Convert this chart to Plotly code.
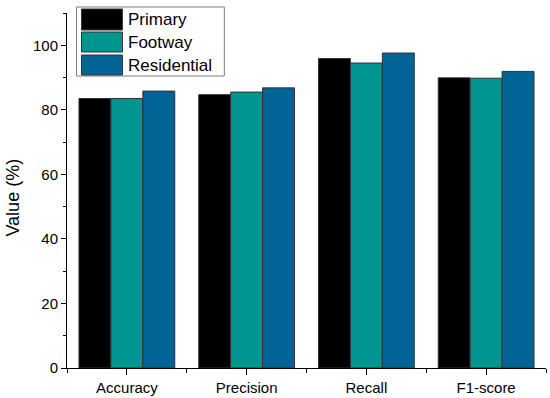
import plotly.graph_objects as go

categories = ["Accuracy", "Precision", "Recall", "F1-score"]
primary = [83.5, 84.7, 95.9, 89.9]
footway = [83.5, 85.5, 94.5, 89.8]
residential = [85.8, 86.8, 97.6, 91.9]
series_names = ["Primary", "Footway", "Residential"]
colors = ["#000000", "#00968F", "#006496"]
y_ticks = [0, 20, 40, 60, 80, 100]

W, H = 550, 398
L, R, T, B = 66.5, 4, 13, 30
pw, ph = W - L - R, H - T - B


def px(x):
    return (x - L) / pw


def py(y):
    return (H - B - y) / ph


xpos = list(range(len(categories)))
fig = go.Figure()
for name, vals, col in zip(series_names, [primary, footway, residential], colors):
    fig.add_trace(go.Bar(
        x=xpos, y=vals, name=name, marker=dict(color=col, line=dict(color="#333333", width=1)),
        showlegend=False, hoverinfo="skip",
    ))

font_family = "Liberation Sans, Arial, sans-serif"
fig.update_layout(
    width=W, height=H,
    margin=dict(l=L, r=R, t=T, b=B, autoexpand=False),
    paper_bgcolor="white", plot_bgcolor="white",
    barmode="group", bargap=0.2, bargroupgap=0,
    font=dict(family=font_family, color="black", size=15),
    xaxis=dict(
        range=[-0.5, 3.5], tickvals=xpos, ticktext=categories, automargin=False,
        showgrid=False, zeroline=False, showline=True, linecolor="black", linewidth=1,
        ticks="outside", ticklen=6, tickcolor="black", tickwidth=1,
        tickfont=dict(size=15),
        minor=dict(tick0=0.5, dtick=1, ticks="outside", ticklen=4, tickcolor="black", showgrid=False),
    ),
    yaxis=dict(
        range=[0, 110], tickvals=y_ticks, automargin=False,
        showgrid=False, zeroline=False, showline=True, linecolor="black", linewidth=1,
        ticks="outside", ticklen=5, tickcolor="black", tickwidth=1,
        tickfont=dict(size=15),
        minor=dict(tick0=0, dtick=10, ticks="outside", ticklen=3, tickcolor="black", showgrid=False),
    ),
)

# Legend drawn manually to match the large swatches
shapes = [dict(type="rect", xref="paper", yref="paper",
               x0=px(76), x1=px(224), y0=py(76), y1=py(7),
               line=dict(color="#7f7f7f", width=1), fillcolor="white", layer="above")]
annotations = [dict(xref="paper", yref="paper", x=px(12), y=py(198), text="Value (%)",
                    textangle=-90, showarrow=False, xanchor="center", yanchor="middle",
                    font=dict(size=18, family=font_family, color="black"))]
rows = [(9, 30), (32, 52), (55, 75)]
for (y0, y1), name, col in zip(rows, series_names, colors):
    shapes.append(dict(type="rect", xref="paper", yref="paper",
                       x0=px(81), x1=px(122), y0=py(y1), y1=py(y0),
                       line=dict(color="#333333", width=1), fillcolor=col, layer="above"))
    annotations.append(dict(xref="paper", yref="paper", x=px(126), y=py((y0 + y1) / 2),
                            text=name, showarrow=False, xanchor="left", yanchor="middle",
                            font=dict(size=17, family=font_family, color="black")))
fig.update_layout(shapes=shapes, annotations=annotations)

fig.write_html(
    "out.html",
    config={"displayModeBar": False, "staticPlot": True},
    post_script="document.body.style.margin='0';document.body.style.overflow='hidden';",
)
